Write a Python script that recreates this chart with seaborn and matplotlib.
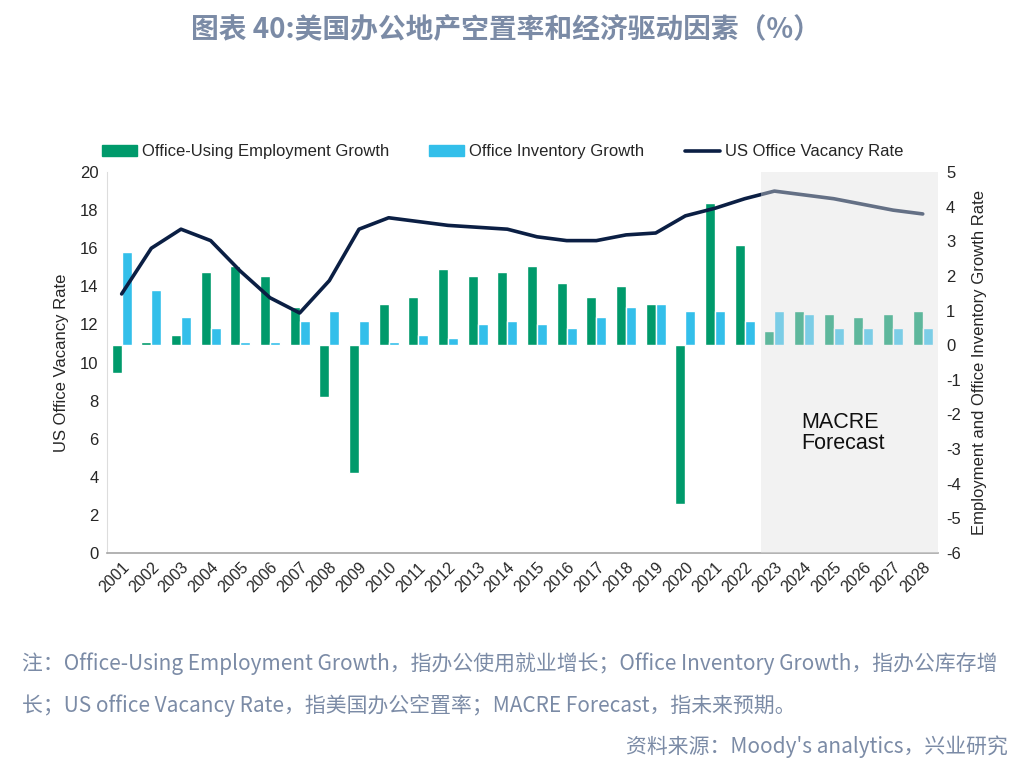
import numpy as np
import pandas as pd
import seaborn as sns
import matplotlib.pyplot as plt
from matplotlib.patches import Patch
from matplotlib.lines import Line2D

# chart data
years = [str(y) for y in range(2001, 2029)]
employment_growth = [-0.8, 0.1, 0.3, 2.1, 2.3, 2.0, 1.1, -1.5, -3.7, 1.2,
                     1.4, 2.2, 2.0, 2.1, 2.3, 1.8, 1.4, 1.7, 1.2, -4.6,
                     4.1, 2.9, 0.4, 1.0, 0.9, 0.8, 0.9, 1.0]
inventory_growth = [2.7, 1.6, 0.8, 0.5, 0.1, 0.1, 0.7, 1.0, 0.7, 0.1,
                    0.3, 0.2, 0.6, 0.7, 0.6, 0.5, 0.8, 1.1, 1.2, 1.0,
                    1.0, 0.7, 1.0, 0.9, 0.5, 0.5, 0.5, 0.5]
vacancy_rate = [13.6, 16.0, 17.0, 16.4, 14.8, 13.4, 12.6, 14.3, 17.0, 17.6,
                17.4, 17.2, 17.1, 17.0, 16.6, 16.4, 16.4, 16.7, 16.8, 17.7,
                18.1, 18.6, 19.0, 18.8, 18.6, 18.3, 18.0, 17.8]
series_names = ["Office-Using Employment Growth", "Office Inventory Growth"]
line_name = "US Office Vacancy Rate"
forecast_start = "2023"

GREEN = "#009A6B"
BLUE = "#33BFEA"
NAVY = "#0B1F44"
NOTE = "#7B8BA6"

sns.set_style("white")
plt.rcParams["font.family"] = ["Liberation Sans", "DejaVu Sans"]
plt.rcParams["axes.unicode_minus"] = False
CJK = ["Noto Sans CJK SC", "DejaVu Sans"]

df = pd.DataFrame({
    "year": years * 2,
    "value": employment_growth + inventory_growth,
    "series": [series_names[0]] * len(years) + [series_names[1]] * len(years),
})

fig = plt.figure(figsize=(10.32, 7.75), dpi=100)
ax = fig.add_axes([0.1035, 0.2865, 0.805, 0.4915])

# bars on the growth axis (shown on the right)
sns.barplot(data=df, x="year", y="value", hue="series", palette=[GREEN, BLUE],
            width=0.68, gap=0, saturation=1, legend=False, ax=ax)
ax.set_xlabel("")
ax.set_xlim(-0.5, len(years) - 0.5)

# vacancy line on the left axis
lax = ax.twinx()
sns.lineplot(x=np.arange(len(years)), y=vacancy_rate, color=NAVY, linewidth=2.6, ax=lax)
lax.set_ylim(0, 20)
lax.set_yticks(range(0, 21, 2))
lax.yaxis.tick_left()
lax.yaxis.set_label_position("left")
lax.set_ylabel("US Office Vacancy Rate", fontsize=12, labelpad=8)

# twinx moves the original ticks to the left, so set the right side afterwards
ax.set_ylim(-6, 5)
ax.set_yticks(range(-6, 6))
ax.yaxis.tick_right()
ax.yaxis.set_label_position("right")
ax.set_ylabel("Employment and Office Inventory Growth Rate", fontsize=12, labelpad=8)

# forecast region: grey veil over bars and line
fidx = years.index(forecast_start)
lax.axvspan(fidx - 0.46, len(years) - 0.5, color="#E1E1E1", alpha=0.42, lw=0, zorder=5)
lax.text(fidx + 0.9, 6.3, "MACRE\nForecast", fontsize=15.5, color="#111111",
         ha="left", va="center", linespacing=1.05, zorder=6)

for a in (ax, lax):
    a.tick_params(axis="y", length=0, labelsize=12, pad=6)
    for s in a.spines.values():
        s.set_visible(False)
lax.spines["left"].set_visible(True)
lax.spines["left"].set_color("#DDDDDD")
lax.spines["bottom"].set_visible(True)
lax.spines["bottom"].set_color("#A6A6A6")
lax.spines["bottom"].set_linewidth(1.2)
ax.tick_params(axis="x", length=0, labelsize=11.5, pad=5)
plt.setp(ax.get_xticklabels(), rotation=45, ha="right", rotation_mode="anchor")

handles = [Patch(color=GREEN), Patch(color=BLUE), Line2D([], [], color=NAVY, lw=2.6)]
fig.legend(handles, series_names + [line_name], loc="center", ncol=3,
           bbox_to_anchor=(0.487, 0.804), frameon=False, fontsize=12,
           handlelength=2.1, handleheight=0.55, handletextpad=0.3, columnspacing=2.4)

fig.text(0.49, 0.962, "图表 40:美国办公地产空置率和经济驱动因素（%）", family=CJK,
         fontsize=20, fontweight="bold", color=NOTE, ha="center", va="center")
fig.text(0.021, 0.144, "注：Office-Using Employment Growth，指办公使用就业增长；Office Inventory Growth，指办公库存增",
         family=CJK, fontsize=15, color=NOTE, ha="left", va="center")
fig.text(0.021, 0.090, "长；US office Vacancy Rate，指美国办公空置率；MACRE Forecast，指未来预期。",
         family=CJK, fontsize=15, color=NOTE, ha="left", va="center")
fig.text(0.977, 0.036, "资料来源：Moody's analytics，兴业研究",
         family=CJK, fontsize=15, color=NOTE, ha="right", va="center")

fig.savefig("out.png", dpi=100)
